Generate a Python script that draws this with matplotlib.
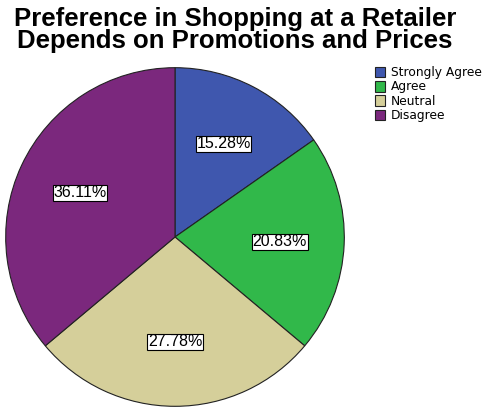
import matplotlib.pyplot as plt

categories = ['Strongly Agree', 'Agree', 'Neutral', 'Disagree']
percents = [15.28, 20.83, 27.78, 36.11]
colors = ['#3F57AE', '#31B84A', '#D5CF9A', '#7B287D']

W, H = 492, 409
fig = plt.figure(figsize=(W / 100, H / 100), dpi=100)
fig.patch.set_facecolor('white')

cx, cy, r = 175, 237, 171
ax = fig.add_axes([(cx - r) / W, (H - cy - r) / H, 2 * r / W, 2 * r / H])
wedges, texts, autotexts = ax.pie(
    percents, colors=colors, startangle=90, counterclock=False,
    autopct='%.2f%%', pctdistance=0.62, radius=1,
    wedgeprops=dict(edgecolor='#222222', linewidth=0.8),
    textprops=dict(fontsize=11.5, family='Liberation Sans'))
for t in autotexts:
    t.set_bbox(dict(facecolor='white', edgecolor='black', linewidth=0.8, pad=0.4))
ax.set_xlim(-1.01, 1.01)
ax.set_ylim(-1.01, 1.01)
ax.set_aspect('equal')

fig.text(235 / W, 1 - 7 / H, 'Preference in Shopping at a Retailer\nDepends on Promotions and Prices',
         ha='center', va='top', fontsize=18.5, fontweight='bold',
         family='Liberation Sans', linespacing=0.92)

leg = fig.legend(wedges, categories, loc='upper left', bbox_to_anchor=(375 / W, 1 - 66 / H),
                 frameon=False, prop=dict(family='DejaVu Sans', size=8.8),
                 handlelength=0.85, handleheight=0.95, handletextpad=0.45,
                 labelspacing=0.12, borderpad=0, borderaxespad=0)

fig.savefig('out.png', dpi=100, facecolor='white')
